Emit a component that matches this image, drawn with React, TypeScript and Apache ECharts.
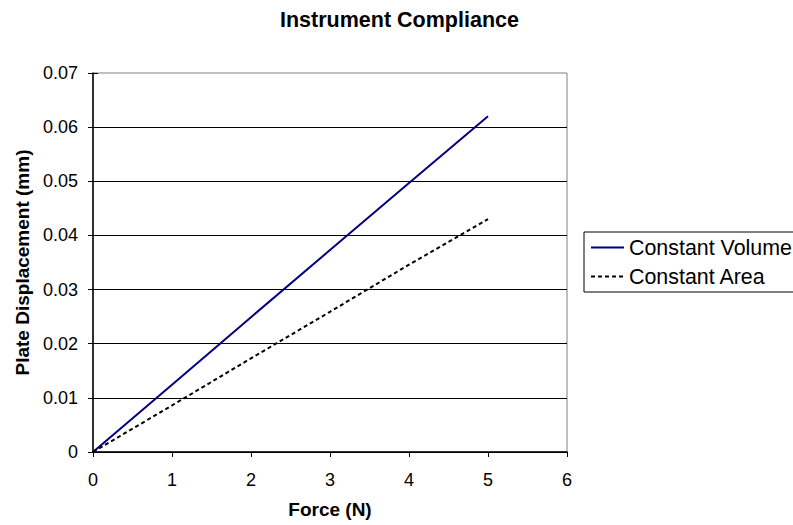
import React, { useEffect, useRef } from "react";
import * as echarts from "echarts";

// Applied force (N)
const forceN = [0, 1, 2, 3, 4, 5];
// Plate displacement (mm) for each loading mode
const constantVolume = [0, 0.0124, 0.0249, 0.0373, 0.0497, 0.062];
const constantArea = [0, 0.0086, 0.0173, 0.0259, 0.0346, 0.043];

const xTicks = { min: 0, max: 6, interval: 1 };
const yTicks = { min: 0, max: 0.07, interval: 0.01 };

const FONT = "'Liberation Sans', Arial, Helvetica, sans-serif";

export default function App() {
  const ref = useRef<HTMLDivElement>(null);

  useEffect(() => {
    if (!ref.current) return;
    const chart = echarts.init(ref.current, undefined, { renderer: "svg" });

    const pairs = (ys: number[]) => forceN.map((x, i) => [x, ys[i]]);

    chart.setOption({
      animation: false,
      backgroundColor: "#ffffff",
      textStyle: { fontFamily: FONT },
      title: {
        text: "Instrument Compliance",
        left: 280,
        top: 9,
        padding: 0,
        textStyle: {
          fontFamily: FONT,
          fontSize: 21.5,
          fontWeight: "bold",
          color: "#000",
        },
      },
      legend: {
        orient: "vertical",
        left: 584,
        top: 232,
        padding: [5, 6, 5, 6],
        itemGap: 8,
        itemWidth: 33,
        itemHeight: 14,
        borderColor: "#000",
        borderWidth: 1,
        backgroundColor: "#fff",
        // line samples only, no point markers
        itemStyle: { opacity: 0 },
        textStyle: { fontFamily: FONT, fontSize: 21.4, color: "#000", lineHeight: 21 },
        data: ["Constant Volume", "Constant Area"],
      },
      grid: {
        left: 93,
        right: 226,
        top: 73,
        bottom: 73,
        show: true,
        borderColor: "#808080",
        borderWidth: 1,
        backgroundColor: "transparent",
      },
      xAxis: {
        type: "value",
        ...xTicks,
        name: "Force (N)",
        nameLocation: "middle",
        nameGap: 48,
        nameTextStyle: { fontFamily: FONT, fontSize: 19, fontWeight: "bold", color: "#000" },
        axisLine: { show: true, onZero: false, lineStyle: { color: "#000", width: 1.5 } },
        axisTick: { show: true, length: 5, lineStyle: { color: "#000", width: 1 } },
        axisLabel: { margin: 19, fontFamily: FONT, fontSize: 18, color: "#000" },
        splitLine: { show: false },
      },
      yAxis: [
        {
          type: "value",
          ...yTicks,
          name: "Plate Displacement (mm)",
          nameLocation: "middle",
          nameGap: 60,
          nameTextStyle: { fontFamily: FONT, fontSize: 19, fontWeight: "bold", color: "#000" },
          axisLine: { show: true, onZero: false, lineStyle: { color: "#000", width: 1.5 } },
          axisTick: { show: true, length: 5, lineStyle: { color: "#000", width: 1 } },
          axisLabel: { margin: 15, fontFamily: FONT, fontSize: 18, color: "#000" },
          splitLine: { show: true, showMaxLine: false, lineStyle: { color: "#000", width: 1 } },
        },
        {
          // inner half of the cross-style tick marks
          type: "value",
          ...yTicks,
          position: "left",
          axisLine: { show: false },
          axisTick: { show: true, inside: true, length: 5, lineStyle: { color: "#000", width: 1 } },
          axisLabel: { show: false },
          splitLine: { show: false },
        },
      ],
      series: [
        {
          name: "Constant Volume",
          type: "line",
          data: pairs(constantVolume),
          symbol: "none",
          lineStyle: { color: "#000080", width: 2 },
          itemStyle: { color: "#000080" },
          z: 3,
        },
        {
          name: "Constant Area",
          type: "line",
          data: pairs(constantArea),
          symbol: "none",
          lineStyle: { color: "#000", width: 2, type: [4, 3] },
          itemStyle: { color: "#000" },
          z: 3,
        },
      ],
    });

    return () => chart.dispose();
  }, []);

  return (
    <div
      ref={ref}
      style={{ position: "fixed", left: 0, top: 0, width: 793, height: 525, background: "#fff" }}
    />
  );
}
